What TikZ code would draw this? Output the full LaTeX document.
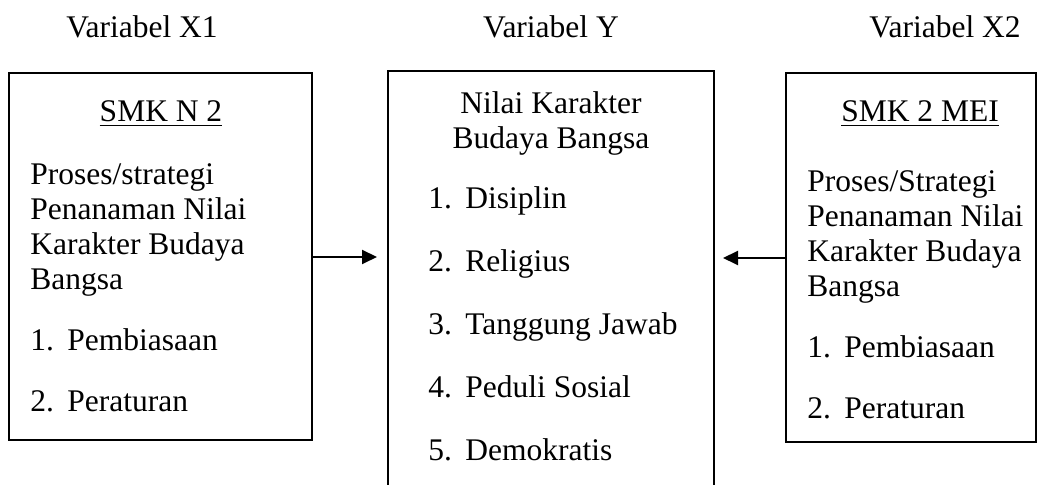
\documentclass[tikz,border=0pt]{standalone}
\usepackage{fontspec}
\setmainfont{Liberation Serif}
\usetikzlibrary{arrows.meta,positioning}

\newcommand{\itm}[2]{\makebox[18.5pt][l]{#1}#2}

\tikzset{
  panel/.style={draw, line width=1pt, inner sep=0pt},
  txt/.style={inner sep=0pt, anchor=base west},
  ctxt/.style={inner sep=0pt, anchor=base},
  arr/.style={-{Triangle[length=7.5pt,width=7pt]}, line width=1pt}
}

\begin{document}
\begin{tikzpicture}[x=0.5pt, y=-0.5pt, line cap=butt, line join=miter,
  font=\fontsize{15.75}{18}\selectfont]
\useasboundingbox (0,0) rectangle (1044,485);

% headings
\node[ctxt] (hx1) at (142,38) {Variabel X1};
\node[ctxt] (hy) at (551,38) {Variabel Y};
\node[ctxt] (hx2) at (945,38) {Variabel X2};

% boxes
\node[panel, minimum width=151.5pt, minimum height=183.5pt] (lbox) at (160.5,256.5) {};
\node[panel, minimum width=163pt, minimum height=214.5pt] (cbox) at (551,285.5) {};
\node[panel, minimum width=125pt, minimum height=184.5pt] (rbox) at (911,257.5) {};

% left box
\node[ctxt] (ltitle) at (161,122) {\underline{SMK N 2}};
\node[txt] (l1) at (30,185) {Proses/strategi};
\node[txt] (l2) at (30,220) {Penanaman Nilai};
\node[txt] (l3) at (30,255) {Karakter Budaya};
\node[txt] (l4) at (30,290) {Bangsa};
\node[txt] (l5) at (30,351) {\itm{1.}{Pembiasaan}};
\node[txt] (l6) at (30,412) {\itm{2.}{Peraturan}};

% center box
\node[ctxt] (c1) at (551,114) {Nilai Karakter};
\node[ctxt] (c2) at (551,149) {Budaya Bangsa};
\foreach \n/\s [count=\i] in {1./Disiplin, 2./Religius, 3./Tanggung Jawab,
    4./Peduli Sosial, 5./Demokratis}
  \node[txt] (ci\i) at (428,146+63*\i) {\itm{\n}{\s}};

% right box
\node[ctxt] (rtitle) at (920,122) {\underline{SMK 2 MEI}};
\node[txt] (r1) at (807,192) {Proses/Strategi};
\node[txt] (r2) at (807,227) {Penanaman Nilai};
\node[txt] (r3) at (807,262) {Karakter Budaya};
\node[txt] (r4) at (807,297) {Bangsa};
\node[txt] (r5) at (807,358) {\itm{1.}{Pembiasaan}};
\node[txt] (r6) at (807,419) {\itm{2.}{Peraturan}};

% arrows
\coordinate (ltip) at (377,257);
\coordinate (rtip) at (723,258);
\draw[arr] (lbox.east |- ltip) -- (ltip);
\draw[arr] (rbox.west |- rtip) -- (rtip);

\end{tikzpicture}
\end{document}
